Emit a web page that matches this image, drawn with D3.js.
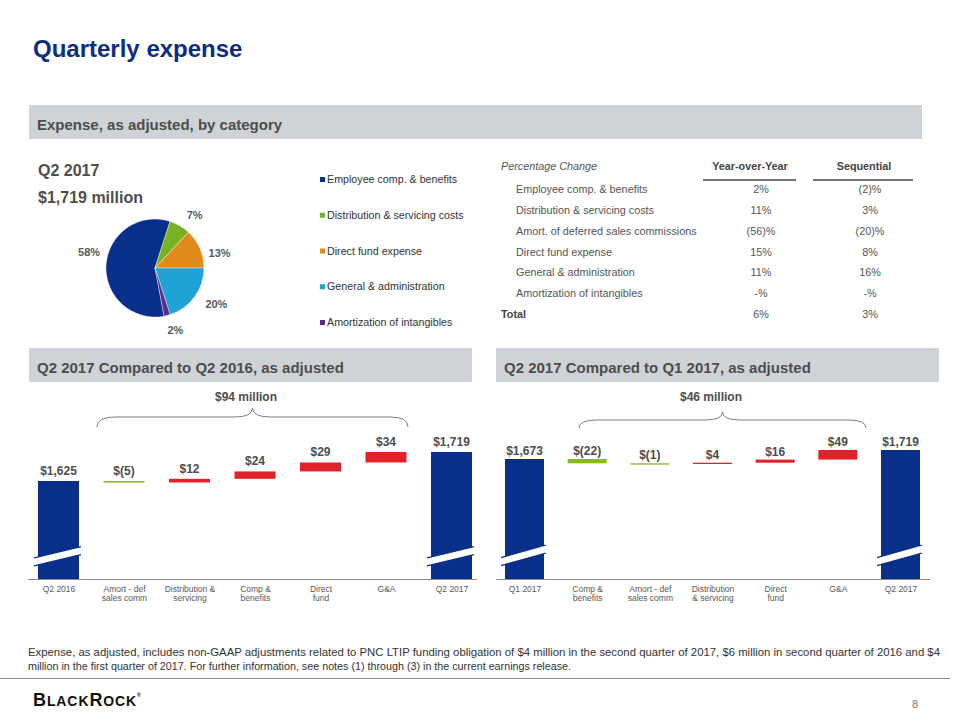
<!DOCTYPE html>
<html><head><meta charset="utf-8">
<script src="https://cdn.jsdelivr.net/npm/d3@7"></script>
<style>body{margin:0;background:#fff}svg{display:block;font-family:"Liberation Sans",Arial,sans-serif}</style>
</head><body><svg id="c" width="960" height="720"></svg>
<script>
// ---------- DATA ----------
const pieCategories = ["Employee comp. & benefits","Distribution & servicing costs","Direct fund expense","General & administration","Amortization of intangibles"];
const pieValues = [58, 7, 13, 20, 2];

const tableLabels = ["Employee comp. & benefits","Distribution & servicing costs","Amort. of deferred sales commissions","Direct fund expense","General & administration","Amortization of intangibles"];
const tableYoY = ["2%","11%","(56)%","15%","11%","-%"];
const tableSeq = ["(2)%","3%","(20)%","8%","16%","-%"];
const tableTotal = ["Total","6%","3%"];

const wfLeftCategories = ["Q2 2016","Amort - def|sales comm","Distribution &|servicing","Comp &|benefits","Direct|fund","G&A","Q2 2017"];
const wfLeftValues = [1625, -5, 12, 24, 29, 34, 1719];
const wfLeftTotal = "$94 million";

const wfRightCategories = ["Q1 2017","Comp &|benefits","Amort - def|sales comm","Distribution|& servicing","Direct|fund","G&A","Q2 2017"];
const wfRightValues = [1673, -22, -1, 4, 16, 49, 1719];
const wfRightTotal = "$46 million";

// ---------- STYLE ----------
const navy = "#0a2f8a";
const pieColors = ["#0a2f8a","#77b222","#e08a1c","#1fa3d6","#562a86"];
const upColor = "#e0222b", downColor = "#86b928";
const textDark = "#4d4d4d";

const svg = d3.select("#c");
svg.append("rect").attr("width",960).attr("height",720).attr("fill","#fff");

// Title
svg.append("text").attr("x",33).attr("y",57).attr("font-size",24).attr("font-weight","bold")
  .attr("fill","#0c2d83").text("Quarterly expense");

// Section bars
function sectionBar(x, y, w, label){
  svg.append("rect").attr("x",x).attr("y",y).attr("width",w).attr("height",34).attr("fill","#cfd3d8");
  svg.append("text").attr("x",x+8).attr("y",y+25).attr("font-size",15).attr("font-weight","bold")
    .attr("fill",textDark).text(label);
}
sectionBar(29,105,893,"Expense, as adjusted, by category");
sectionBar(29,348,443,"Q2 2017 Compared to Q2 2016, as adjusted");
sectionBar(496,348,443,"Q2 2017 Compared to Q1 2017, as adjusted");

// ---------- PIE ----------
svg.append("text").attr("x",38).attr("y",176).attr("font-size",16).attr("font-weight","bold").attr("fill",textDark).text("Q2 2017");
svg.append("text").attr("x",38).attr("y",203).attr("font-size",16).attr("font-weight","bold").attr("fill",textDark).text("$1,719 million");

const pieC = [155, 268], pieR = 49;
const start = 169.2 * Math.PI/180;
const pie = d3.pie().sort(null).startAngle(start).endAngle(start + 2*Math.PI);
const arcs = pie(pieValues);
const arc = d3.arc().innerRadius(0).outerRadius(pieR);
const labelArc = d3.arc().innerRadius(66).outerRadius(66);
const labelNudge = [[0,-12],[6,4],[4,11],[8,-3],[4,-2]];
const gp = svg.append("g").attr("transform",`translate(${pieC[0]},${pieC[1]})`);
gp.selectAll("path").data(arcs).join("path").attr("d",arc).attr("fill",(d,i)=>pieColors[i])
  .attr("stroke","#fff").attr("stroke-width",0.4);
gp.selectAll("text").data(arcs).join("text")
  .attr("transform",(d,i)=>{const c=labelArc.centroid(d);return `translate(${c[0]+labelNudge[i][0]},${c[1]+labelNudge[i][1]})`;})
  .attr("text-anchor","middle").attr("dy","0.35em").attr("font-size",11).attr("font-weight","bold")
  .attr("fill","#595959").text(d=>d.value+"%");

// Legend
const legY = d3.scalePoint().domain(pieCategories).range([183,326]);
const leg = svg.append("g");
pieCategories.forEach((c,i)=>{
  leg.append("rect").attr("x",320).attr("y",legY(c)-6).attr("width",5).attr("height",5).attr("fill",pieColors[i]);
  leg.append("text").attr("x",327).attr("y",legY(c)).attr("font-size",10.7).attr("fill","#333").text(c);
});

// ---------- TABLE ----------
const tg = svg.append("g").attr("font-size",10.8).attr("fill","#555");
tg.append("text").attr("x",501).attr("y",170).attr("font-style","italic").text("Percentage Change");
tg.append("text").attr("x",750).attr("y",170).attr("text-anchor","middle").attr("font-weight","bold").attr("fill","#444").text("Year-over-Year");
tg.append("text").attr("x",864).attr("y",170).attr("text-anchor","middle").attr("font-weight","bold").attr("fill","#444").text("Sequential");
tg.append("line").attr("x1",703).attr("x2",796).attr("y1",180).attr("y2",180).attr("stroke","#444").attr("stroke-width",1.5);
tg.append("line").attr("x1",813).attr("x2",913).attr("y1",180).attr("y2",180).attr("stroke","#444").attr("stroke-width",1.5);
const rowY = d3.scaleLinear().domain([0,6]).range([193,318]);
tableLabels.forEach((l,i)=>{
  tg.append("text").attr("x",516).attr("y",rowY(i)).text(l);
  tg.append("text").attr("x",761).attr("y",rowY(i)).attr("text-anchor","middle").text(tableYoY[i]);
  tg.append("text").attr("x",870).attr("y",rowY(i)).attr("text-anchor","middle").text(tableSeq[i]);
});
tg.append("text").attr("x",501).attr("y",rowY(6)).attr("font-weight","bold").attr("fill","#444").text(tableTotal[0]);
tg.append("text").attr("x",761).attr("y",rowY(6)).attr("text-anchor","middle").text(tableTotal[1]);
tg.append("text").attr("x",870).attr("y",rowY(6)).attr("text-anchor","middle").text(tableTotal[2]);

// ---------- WATERFALLS ----------
const fmt = v => v < 0 ? "$(" + Math.abs(v) + ")" : "$" + d3.format(",")(v);

function waterfall(cfg){
  const g = svg.append("g");
  const x = d3.scalePoint().domain(cfg.cats).range(cfg.xRange);
  const y = d3.scaleLinear().domain(cfg.yDomain).range([cfg.base, cfg.yTop]);
  const n = cfg.vals.length;
  let run = 0;
  const bars = cfg.vals.map((v,i)=>{
    let lo, hi, type;
    if (i === 0 || i === n-1){ lo = cfg.yDomain[0]; hi = v; run = v; type = "total"; }
    else { lo = Math.min(run, run+v); hi = Math.max(run, run+v); run += v; type = v < 0 ? "down" : "up"; }
    return {cat: cfg.cats[i], v, lo, hi, type};
  });
  const bw = cfg.barW;
  g.selectAll("rect.bar").data(bars).join("rect").attr("class","bar")
    .attr("x", d=>x(d.cat)-bw/2).attr("width", bw)
    .attr("y", d=>y(d.hi)).attr("height", d=>Math.max(1.3, y(d.lo)-y(d.hi)))
    .attr("fill", d=>d.type==="total"?navy:(d.type==="up"?upColor:downColor));
  // axis breaks on total bars
  bars.filter(d=>d.type==="total").forEach(d=>{
    const cx = x(d.cat), x0 = cx - bw/2 - 4, x1 = cx + bw/2 + 2;
    const yc = cfg.base - cfg.breakOff, s = cfg.breakSlope, t = 8;
    const yl = yc + s*(cx - x0), yr = yc - s*(x1 - cx);
    g.append("polygon").attr("points",`${x0},${yl} ${x1},${yr} ${x1},${yr+t} ${x0},${yl+t}`).attr("fill","#fff");
    g.append("line").attr("x1",x0).attr("y1",yl).attr("x2",x1).attr("y2",yr).attr("stroke",navy).attr("stroke-width",1.2);
    g.append("line").attr("x1",x0).attr("y1",yl+t).attr("x2",x1).attr("y2",yr+t).attr("stroke",navy).attr("stroke-width",1.2);
  });
  // value labels
  g.selectAll("text.val").data(bars).join("text").attr("class","val")
    .attr("x", d=>x(d.cat)).attr("y", d=>y(d.hi)-cfg.labelGap)
    .attr("text-anchor","middle").attr("font-size",12).attr("font-weight","bold").attr("fill",textDark)
    .text(d=>fmt(d.v));
  // baseline
  g.append("line").attr("x1",cfg.axisX[0]).attr("x2",cfg.axisX[1]).attr("y1",cfg.base+0.5).attr("y2",cfg.base+0.5)
    .attr("stroke","#8c8c8c").attr("stroke-width",1);
  // category labels via axis
  const ax = g.append("g").attr("transform",`translate(0,${cfg.base})`).call(d3.axisBottom(x).tickSize(0).tickPadding(0));
  ax.select(".domain").remove();
  ax.selectAll(".tick text").attr("fill","#595959").attr("font-size",8.5).attr("font-family","Liberation Sans, Arial, sans-serif")
    .attr("y",0).attr("dy",null).text(null)
    .each(function(d){
      const parts = d.split("|");
      const t = d3.select(this);
      parts.forEach((p,k)=>t.append("tspan").attr("x",0).attr("y",13 + k*9).text(p));
    });
  // brace
  const b = cfg.brace, xc = (b.x0+b.x1)/2, r = 18;
  const path = `M${b.x0},${b.bot} Q${b.x0},${b.mid} ${b.x0+r},${b.mid} L${xc-r},${b.mid} Q${xc},${b.mid} ${xc},${b.top} Q${xc},${b.mid} ${xc+r},${b.mid} L${b.x1-r},${b.mid} Q${b.x1},${b.mid} ${b.x1},${b.bot}`;
  g.append("path").attr("d",path).attr("fill","none").attr("stroke","#7f7f7f").attr("stroke-width",1);
  g.append("text").attr("x",cfg.totalX).attr("y",401).attr("text-anchor","middle").attr("font-size",12)
    .attr("font-weight","bold").attr("fill",textDark).text(cfg.total);
}

waterfall({cats: wfLeftCategories, vals: wfLeftValues, xRange:[58.5,451.5], barW:41,
  yDomain:[1307,1719], base:579, yTop:452, axisX:[28,477], breakOff:27, breakSlope:0.24, labelGap:6,
  brace:{x0:97,x1:408,top:408,mid:417,bot:427}, totalX:246, total:wfLeftTotal});
waterfall({cats: wfRightCategories, vals: wfRightValues, xRange:[524.5,900.5], barW:39,
  yDomain:[1060,1719], base:579, yTop:450, axisX:[496,930], breakOff:28, breakSlope:0.28, labelGap:4,
  brace:{x0:579,x1:866,top:412,mid:420,bot:428}, totalX:711, total:wfRightTotal});

// ---------- FOOTER ----------
const fg = svg.append("g").attr("font-size",11).attr("fill","#333");
fg.append("text").attr("x",28).attr("y",656).attr("textLength",912).attr("lengthAdjust","spacingAndGlyphs")
  .text("Expense, as adjusted, includes non-GAAP adjustments related to PNC LTIP funding obligation of $4 million in the second quarter of 2017, $6 million in second quarter of 2016 and $4");
fg.append("text").attr("x",28).attr("y",670).attr("textLength",543).attr("lengthAdjust","spacingAndGlyphs")
  .text("million in the first quarter of 2017.  For further information, see notes (1) through (3) in the current earnings release.");
svg.append("line").attr("x1",0).attr("x2",950).attr("y1",678.5).attr("y2",678.5).attr("stroke","#8c8c8c").attr("stroke-width",1);

const logo = svg.append("text").attr("x",33).attr("y",706).attr("fill","#111").attr("font-weight","bold").attr("letter-spacing",0.9);
logo.append("tspan").attr("font-size",18).text("B");
logo.append("tspan").attr("font-size",14).text("LACK");
logo.append("tspan").attr("font-size",18).text("R");
logo.append("tspan").attr("font-size",14).text("OCK");
logo.append("tspan").attr("font-size",5).attr("dy",-9).text("®");
svg.append("text").attr("x",912).attr("y",708).attr("font-size",11).attr("fill","#777").text("8");
</script></body></html>
